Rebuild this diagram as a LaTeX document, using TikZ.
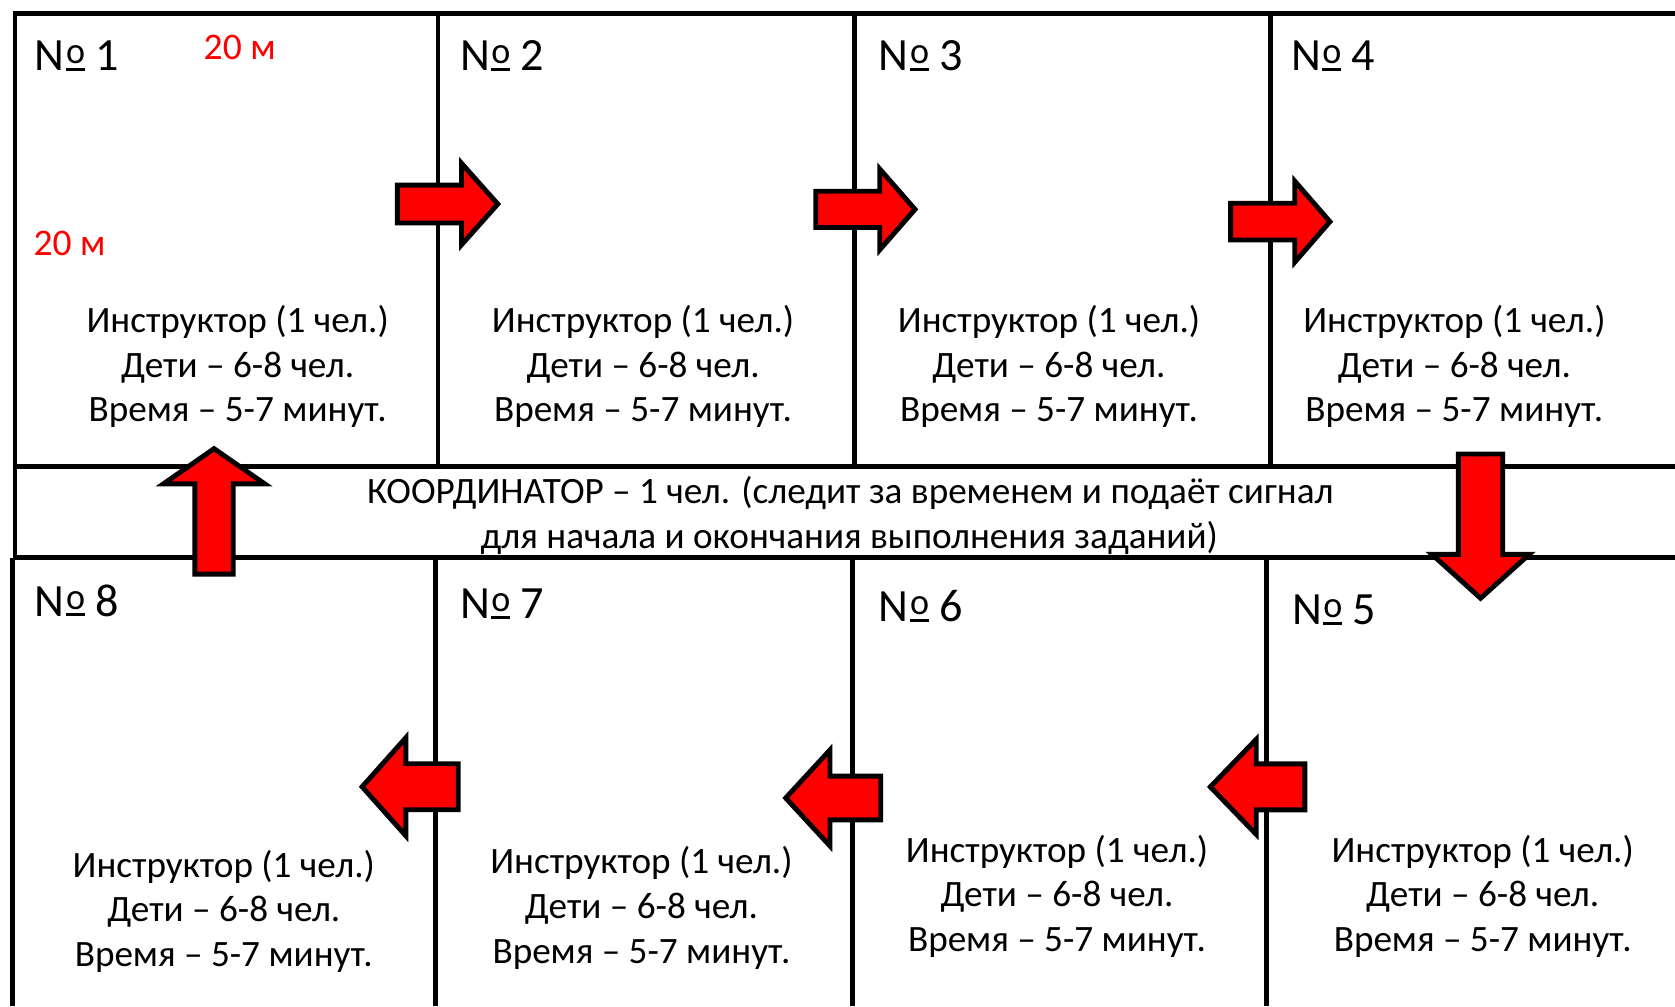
\documentclass[tikz,border=0pt]{standalone}
\usepackage{fontspec}
\usepackage{graphicx}
\setmainfont{Carlito}
\tikzset{
  frameline/.style={line width=1.3pt, line join=miter},
  barrow/.style={draw=black, fill=red, line width=1.3pt, line join=miter},
  body/.style={font=\fontsize{9.9}{12}\selectfont, anchor=base, inner sep=0pt},
  numlbl/.style={font=\fontsize{12.3}{15}\selectfont, anchor=base west, inner sep=0pt},
  dimlbl/.style={font=\fontsize{10}{12}\selectfont, text=red, anchor=base west, inner sep=0pt},
}
\newcommand\numsign{N\kern0.03em\vbox{\hbox{\scalebox{0.78}[0.8]{o}}\kern0.08em\hrule height 0.065em}}
\newcommand\blockarrow[7]{%
  \begin{scope}[shift={(#1,#2)}, rotate=#3]
    \draw[barrow] (0,-#6) -- ({#4-#5},-#6) -- ({#4-#5},-#7) -- (#4,0) -- ({#4-#5},#7) -- ({#4-#5},#6) -- (0,#6) -- cycle;
  \end{scope}}
\newcommand\stationtext[3]{%
  \node[body] (#1a) at (#2,#3) {Инструктор (1 чел.)};
  \node[body] (#1b) at (#2,#3+42) {Дети – 6-8 чел.};
  \node[body] (#1c) at (#2,#3+84) {Время – 5-7 минут.};}
\begin{document}
\begin{tikzpicture}[x=0.01cm, y=-0.01cm]
\useasboundingbox (0,0) rectangle (1568,942);
% frame lines
\draw[frameline] (1568,13) -- (14,13) -- (14,522);
\draw[frameline] (12,522) -- (12,942);
\foreach \x in {410,799.5,1189} \draw[frameline] (\x,13) -- (\x,437);
\draw[frameline] (14,437) -- (1568,437);
\draw[frameline] (12,522) -- (1568,522);
\foreach \x in {408,798,1186} \draw[frameline] (\x,522) -- (\x,942);
% arrows
\blockarrow{372}{191}{0}{94}{34}{17.7}{38.2}
\blockarrow{763.6}{196}{0}{93}{33}{17}{37.8}
\blockarrow{1152}{207.5}{0}{93}{33}{17.2}{38}
\blockarrow{1386}{425}{-90}{135}{41}{20.8}{45.5}
\blockarrow{1221.5}{736.6}{180}{88.5}{43}{21.5}{44.5}
\blockarrow{824.5}{747}{180}{89}{41.5}{20.5}{45}
\blockarrow{429}{736.5}{180}{90}{41}{21.5}{46}
\blockarrow{200.4}{537.5}{90}{117.5}{33}{18}{47.5}
% numbers
\node[numlbl] (n1) at (32,66) {\numsign{} 1};
\node[numlbl] (n2) at (430,66) {\numsign{} 2};
\node[numlbl] (n3) at (822,66) {\numsign{} 3};
\node[numlbl] (n4) at (1208,66) {\numsign{} 4};
\node[numlbl] (n8) at (32,577) {\numsign{} 8};
\node[numlbl] (n7) at (430,579) {\numsign{} 7};
\node[numlbl] (n6) at (822,582) {\numsign{} 6};
\node[numlbl] (n5) at (1209,585) {\numsign{} 5};
% dimensions
\node[dimlbl] (dtop) at (190,56) {20 м};
\node[dimlbl] (dleft) at (30.8,239) {20 м};
% station texts
\stationtext{s1}{222.5}{311}
\stationtext{s2}{602}{311}
\stationtext{s3}{982}{311}
\stationtext{s4}{1361.5}{311}
\stationtext{s8}{209.5}{821}
\stationtext{s7}{600.5}{817.5}
\stationtext{s6}{989.5}{807}
\stationtext{s5}{1388}{807}
% coordinator
\node[body] (coord1) at (796,471) {КООРДИНАТОР – 1 чел. (следит за временем и подаёт сигнал};
\node[body] (coord2) at (795,513) {для начала и окончания выполнения заданий)};
\end{tikzpicture}
\end{document}
